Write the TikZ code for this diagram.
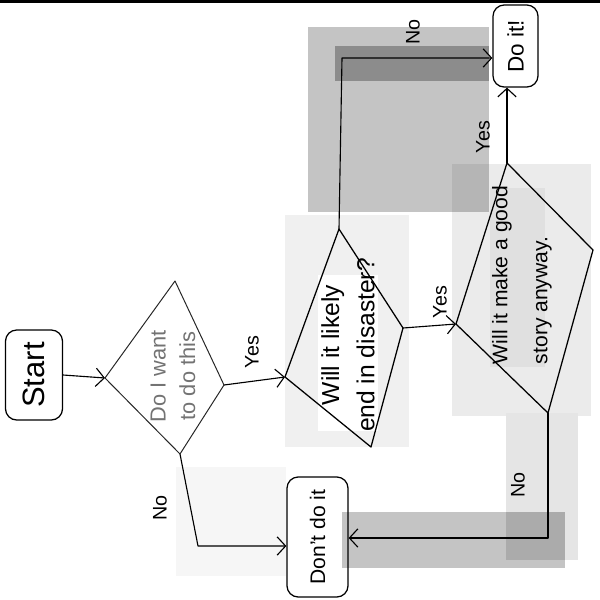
\documentclass[tikz,border=0pt]{standalone}
\usepackage{fontspec}
\setmainfont{Liberation Sans}
\usetikzlibrary{arrows.meta}
\begin{document}
\begin{tikzpicture}[x=0.025cm,y=-0.025cm,
  flow/.style={line width=0.8pt, line join=round, line cap=round},
  arr/.style={flow, -{Straight Barb[length=6pt,width=13pt,line width=0.8pt]}},
  term/.style={draw, line width=0.9pt, rounded corners=8pt, inner sep=0pt},
  diam/.style={draw, line width=0.9pt, line join=round},
  qtext/.style={rotate=90, inner sep=0pt},
  lbl/.style={rotate=90, inner sep=0pt, font=\fontsize{14}{17}\selectfont}]
\useasboundingbox (0,0) rectangle (600,600);
\fill[white] (0,0) rectangle (600,600);
% grey overlay rectangles
\fill[black!23] (308,27) rectangle (489,212);
\fill[black!45] (335,46) rectangle (489,81);
\fill[black!8] (452,164) rectangle (591,416);
\fill[black!29] (452,164) rectangle (489,212);
\fill[black!12] (490,188) rectangle (545,367);
\fill[black!6] (285,215) rectangle (409,447);
\fill[white] (318,275) rectangle (378,431);
\fill[black!10] (506,413) rectangle (578,560);
\fill[black!23] (342,512) rectangle (565,568);
\fill[black!33] (506,512) rectangle (565,560);
\fill[black!3.5] (176,467) rectangle (286,576);
\fill[black] (0,0) rectangle (600,2.5);
% terminals
\node[term, minimum width=1.425cm, minimum height=2.25cm, font=\fontsize{22}{26}\selectfont] (start) at (34,375) {\rotatebox{90}{Start}};
\node[term, minimum width=1.125cm, minimum height=2.05cm, font=\fontsize{16}{19}\selectfont] (doit) at (515.5,46) {\rotatebox{90}{Do it!}};
\node[term, minimum width=1.525cm, minimum height=3cm, font=\fontsize{15}{18}\selectfont] (dont) at (317.5,537) {\rotatebox{90}{Don't do it}};
% diamond 1
\coordinate (d1t) at (175,281);
\coordinate (d1r) at (224,385);
\coordinate (d1b) at (180,454);
\coordinate (d1l) at (105,378);
\draw[diam, line width=0.7pt, black!85] (d1t) -- (d1r) -- (d1b) -- (d1l) -- cycle;
\node[qtext, align=center, text=black!55, font=\fontsize{15.5}{21}\selectfont] (q1) at (173,376) {Do I want\\to do this};
% diamond 2
\coordinate (d2t) at (339,229);
\coordinate (d2r) at (403,328);
\coordinate (d2b) at (371,447);
\coordinate (d2l) at (285,377);
\draw[diam] (d2t) -- (d2r) -- (d2b) -- (d2l) -- cycle;
\node[qtext, align=center, font=\fontsize{17.5}{25}\selectfont] (q2) at (348,345) {Will it likely\\end in disaster?};
% diamond 3
\coordinate (d3t) at (507,163);
\coordinate (d3r) at (593,250);
\coordinate (d3b) at (548,413);
\coordinate (d3l) at (456,324);
\draw[diam] (d3t) -- (d3r) -- (d3b) -- (d3l) -- cycle;
\node[qtext, align=left, font=\fontsize{15}{28.5}\selectfont] (q3) at (522,275) {Will it make a good\\story anyway.};
% connectors
\draw[arr] (start.east) -- (d1l);
\draw[arr] (d1r) -- (d2l);
\coordinate (c1) at (342,58);
\draw[arr] (d2t) -- (c1) -- (c1 -| doit.west);
\draw[arr] (d2r) -- (d3l);
\draw[arr] (d3t) -- (d3t |- doit.south);
\coordinate (c2) at (548,538);
\draw[arr] (d3b) -- (c2) -- (c2 -| dont.east);
\coordinate (c3) at (198,546);
\draw[arr] (d1b) -- (c3) -- (c3 -| dont.west);
% labels
\node[lbl] (y1) at (252,352) {Yes};
\node[lbl] (y2) at (440,302) {Yes};
\node[lbl] (y3) at (483,137) {Yes};
\node[lbl] (n1) at (413,32) {No};
\node[lbl] (n2) at (518,485) {No};
\node[lbl] (n3) at (160,508) {No};
\end{tikzpicture}
\end{document}
